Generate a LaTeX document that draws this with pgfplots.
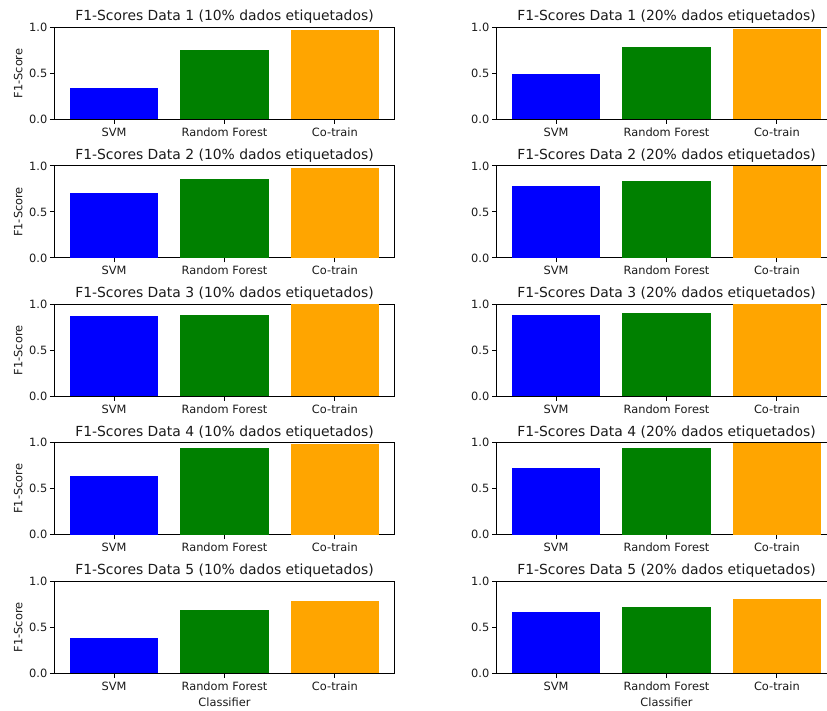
\documentclass[border=0pt]{standalone}
\usepackage{pgfplots}
\pgfplotsset{compat=1.18}
\usepackage{fontspec}
\setmainfont{DejaVu Sans}
\definecolor{mplorange}{RGB}{255,165,0}
\definecolor{mplgreen}{RGB}{0,128,0}
\definecolor{txt}{RGB}{26,26,26}
\pgfplotsset{
 f1/.style={
  scale only axis, width=340pt, height=92pt,
  xmin=-0.54, xmax=2.54, ymin=0, ymax=1,
  xtick={0,1,2}, xticklabels={SVM,Random Forest,Co-train},
  ytick={0,0.5,1}, yticklabels={0.0,0.5,1.0},
  tick align=outside, major tick length=4.5pt,
  xtick pos=left, ytick pos=left,
  axis line style={line width=0.9pt},
  every tick/.style={line width=0.9pt, black},
  /pgf/number format/assume math mode=true,
  ticklabel style={font=\fontsize{11.4}{13}\selectfont, text=txt},
  xticklabel style={anchor=base, inner sep=0pt, yshift=-12.3pt},
  yticklabel style={anchor=east, inner sep=0pt, xshift=-2.5pt},
  title style={font=\fontsize{13.9}{16}\selectfont, text=txt, at={(axis description cs:0.5,1)}, anchor=base, yshift=0.8pt, inner sep=0pt},
  ylabel style={font=\fontsize{11.4}{13}\selectfont, text=txt, at={(axis description cs:-0.0935,0.5)}, anchor=south, inner sep=0pt},
  xlabel style={font=\fontsize{11.4}{13}\selectfont, text=txt, at={(axis description cs:0.5,0)}, anchor=base, yshift=-33.3pt, inner sep=0pt},
  anchor=north west,
 },
 bS/.style={ybar, bar width=0.8, bar shift=0pt, fill=blue, draw=none},
 bR/.style={ybar, bar width=0.8, bar shift=0pt, fill=mplgreen, draw=none},
 bC/.style={ybar, bar width=0.8, bar shift=0pt, fill=mplorange, draw=none},
}
\begin{document}
\begin{tikzpicture}
\path[use as bounding box] (0pt,0pt) rectangle (827pt,711pt);
\clip (0pt,0pt) rectangle (827pt,711pt);
% Row 1
\begin{axis}[f1, at={(54.5pt,683.5pt)}, title={F1-Scores Data 1 (10\% dados etiquetados)}, ylabel={F1-Score}]
\addplot[bS] coordinates {(0,0.337)};
\addplot[bR] coordinates {(1,0.750)};
\addplot[bC] coordinates {(2,0.978)};
\end{axis}
\begin{axis}[f1, at={(496.5pt,683.5pt)}, title={F1-Scores Data 1 (20\% dados etiquetados)}]
\addplot[bS] coordinates {(0,0.496)};
\addplot[bR] coordinates {(1,0.793)};
\addplot[bC] coordinates {(2,0.985)};
\end{axis}
% Row 2
\begin{axis}[f1, at={(54.5pt,545.05pt)}, title={F1-Scores Data 2 (10\% dados etiquetados)}, ylabel={F1-Score}]
\addplot[bS] coordinates {(0,0.710)};
\addplot[bR] coordinates {(1,0.855)};
\addplot[bC] coordinates {(2,0.975)};
\end{axis}
\begin{axis}[f1, at={(496.5pt,545.05pt)}, title={F1-Scores Data 2 (20\% dados etiquetados)}]
\addplot[bS] coordinates {(0,0.783)};
\addplot[bR] coordinates {(1,0.837)};
\addplot[bC] coordinates {(2,1.000)};
\end{axis}
% Row 3
\begin{axis}[f1, at={(54.5pt,406.6pt)}, title={F1-Scores Data 3 (10\% dados etiquetados)}, ylabel={F1-Score}]
\addplot[bS] coordinates {(0,0.877)};
\addplot[bR] coordinates {(1,0.888)};
\addplot[bC] coordinates {(2,1.000)};
\end{axis}
\begin{axis}[f1, at={(496.5pt,406.6pt)}, title={F1-Scores Data 3 (20\% dados etiquetados)}]
\addplot[bS] coordinates {(0,0.884)};
\addplot[bR] coordinates {(1,0.902)};
\addplot[bC] coordinates {(2,1.000)};
\end{axis}
% Row 4
\begin{axis}[f1, at={(54.5pt,268.15pt)}, title={F1-Scores Data 4 (10\% dados etiquetados)}, ylabel={F1-Score}]
\addplot[bS] coordinates {(0,0.639)};
\addplot[bR] coordinates {(1,0.939)};
\addplot[bC] coordinates {(2,0.989)};
\end{axis}
\begin{axis}[f1, at={(496.5pt,268.15pt)}, title={F1-Scores Data 4 (20\% dados etiquetados)}]
\addplot[bS] coordinates {(0,0.729)};
\addplot[bR] coordinates {(1,0.949)};
\addplot[bC] coordinates {(2,1.000)};
\end{axis}
% Row 5
\begin{axis}[f1, at={(54.5pt,129.7pt)}, title={F1-Scores Data 5 (10\% dados etiquetados)}, ylabel={F1-Score}, xlabel={Classifier}]
\addplot[bS] coordinates {(0,0.383)};
\addplot[bR] coordinates {(1,0.693)};
\addplot[bC] coordinates {(2,0.783)};
\end{axis}
\begin{axis}[f1, at={(496.5pt,129.7pt)}, title={F1-Scores Data 5 (20\% dados etiquetados)}, xlabel={Classifier}]
\addplot[bS] coordinates {(0,0.664)};
\addplot[bR] coordinates {(1,0.718)};
\addplot[bC] coordinates {(2,0.809)};
\end{axis}
\end{tikzpicture}
\end{document}
